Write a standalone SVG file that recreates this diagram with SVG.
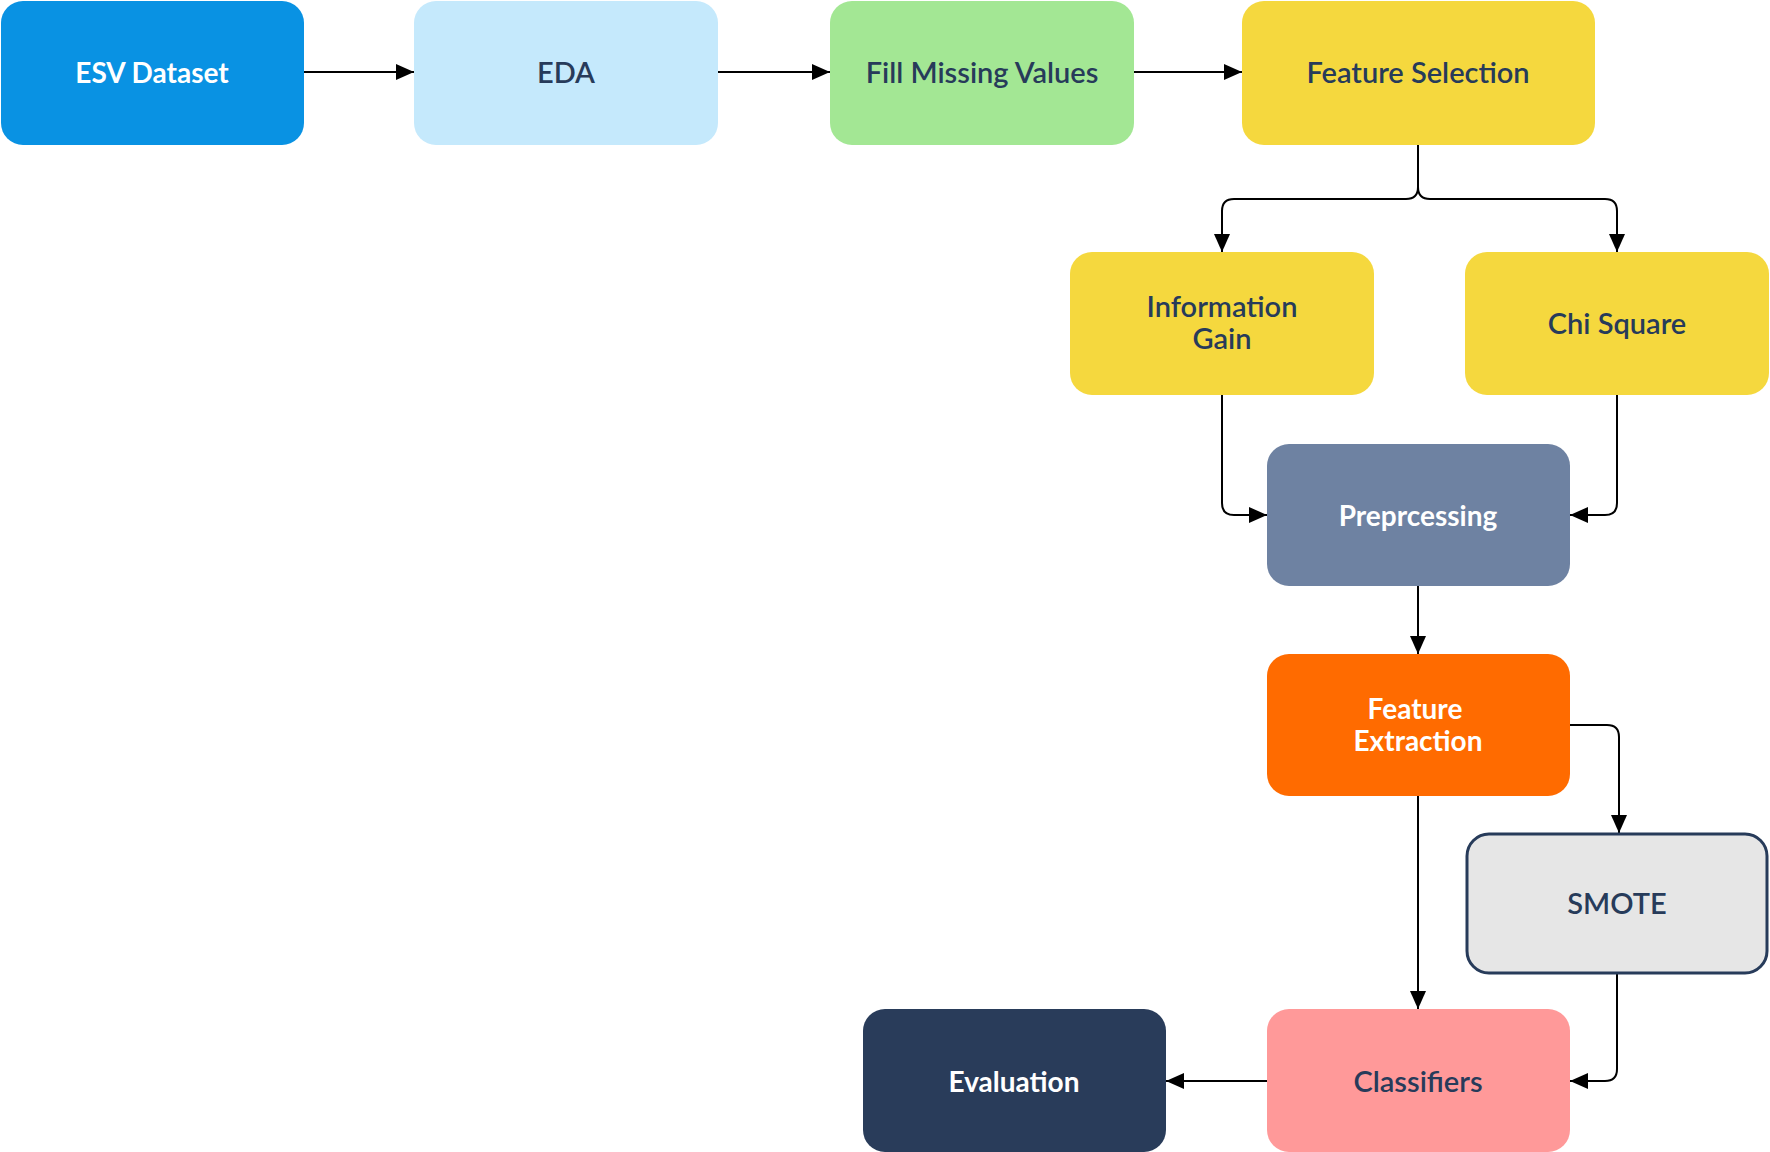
<svg xmlns="http://www.w3.org/2000/svg" width="1770" height="1152" viewBox="0 0 1770 1152">
<style>
.lbl{font-family:Lato,"Noto Sans","Liberation Sans",sans-serif;font-size:29px;text-anchor:middle;fill:#273B5A;font-weight:600}
.w{fill:#ffffff;font-weight:700;font-size:28px}
.con{fill:none;stroke:#000;stroke-width:2}
</style>
<defs>
<marker id="ah" markerUnits="userSpaceOnUse" markerWidth="18" markerHeight="16" refX="18" refY="8" orient="auto">
<path d="M0,0 L18,8 L0,16 z" fill="#000"/>
</marker>
</defs>
<rect width="1770" height="1152" fill="#ffffff"/>
<g id="connectors">
<path class="con" marker-end="url(#ah)" d="M304 72 H414"/>
<path class="con" marker-end="url(#ah)" d="M718 72 H830"/>
<path class="con" marker-end="url(#ah)" d="M1134 72 H1242"/>
<path class="con" marker-end="url(#ah)" d="M1418 145 V187 Q1418 199 1406 199 H1234 Q1222 199 1222 211 V252"/>
<path class="con" marker-end="url(#ah)" d="M1418 145 V187 Q1418 199 1430 199 H1605 Q1617 199 1617 211 V252"/>
<path class="con" marker-end="url(#ah)" d="M1222 395 V503 Q1222 515 1234 515 H1267"/>
<path class="con" marker-end="url(#ah)" d="M1617 395 V503 Q1617 515 1605 515 H1570"/>
<path class="con" marker-end="url(#ah)" d="M1418 586 V654"/>
<path class="con" marker-end="url(#ah)" d="M1570 725 H1607 Q1619 725 1619 737 V833"/>
<path class="con" marker-end="url(#ah)" d="M1418 796 V1009"/>
<path class="con" marker-end="url(#ah)" d="M1617 973 V1069 Q1617 1081 1605 1081 H1570"/>
<path class="con" marker-end="url(#ah)" d="M1267 1081 H1166"/>
</g>
<g id="esv"><rect x="1" y="1" width="303" height="144" rx="22" fill="#0992E3"/><text class="lbl w" x="152" y="83">ESV Dataset</text></g>
<g id="eda"><rect x="414" y="1" width="304" height="144" rx="22" fill="#C5E9FC"/><text class="lbl" x="566" y="83">EDA</text></g>
<g id="fill"><rect x="830" y="1" width="304" height="144" rx="22" fill="#A3E794"/><text class="lbl" x="982" y="83">Fill Missing Values</text></g>
<g id="fs"><rect x="1242" y="1" width="353" height="144" rx="22" fill="#F5D83E"/><text class="lbl" x="1418" y="83">Feature Selection</text></g>
<g id="ig"><rect x="1070" y="252" width="304" height="143" rx="22" fill="#F5D83E"/><text class="lbl" x="1222" y="317">Information</text><text class="lbl" x="1222" y="349">Gain</text></g>
<g id="chi"><rect x="1465" y="252" width="304" height="143" rx="22" fill="#F5D83E"/><text class="lbl" x="1617" y="334">Chi Square</text></g>
<g id="pre"><rect x="1267" y="444" width="303" height="142" rx="22" fill="#6E82A2"/><text class="lbl w" x="1418" y="526">Preprcessing</text></g>
<g id="fe"><rect x="1267" y="654" width="303" height="142" rx="22" fill="#FF6B00"/><text class="lbl w" x="1415" y="719">Feature</text><text class="lbl w" x="1418" y="751">Extraction</text></g>
<g id="smote"><rect x="1467" y="834" width="300" height="139" rx="22" fill="#E6E6E6" stroke="#273B5A" stroke-width="3"/><text class="lbl" x="1617" y="914">SMOTE</text></g>
<g id="cls"><rect x="1267" y="1009" width="303" height="143" rx="22" fill="#FF9999"/><text class="lbl" x="1418" y="1092">Classifiers</text></g>
<g id="eval"><rect x="863" y="1009" width="303" height="143" rx="22" fill="#293C5A"/><text class="lbl w" x="1014" y="1092">Evaluation</text></g>
</svg>
